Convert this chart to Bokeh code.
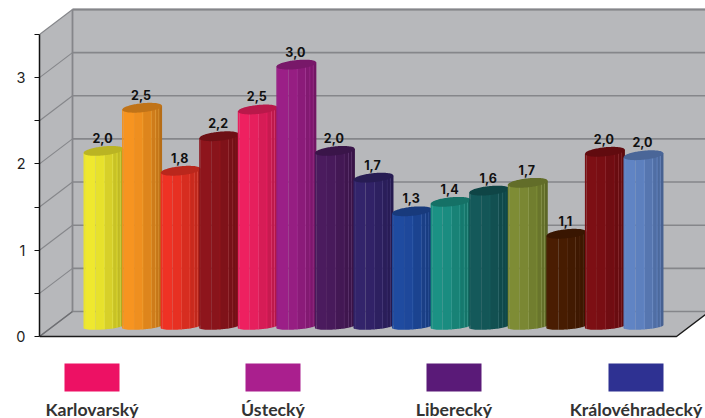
from bokeh.plotting import figure
from bokeh.models import Range1d, FixedTicker
from bokeh.core.properties import value
from bokeh.embed import file_html
from bokeh.resources import INLINE
import numpy as np

labels = ["2,0", "2,5", "1,8", "2,2", "2,5", "3,0", "2,0", "1,7", "1,3", "1,4", "1,6", "1,7", "1,1", "2,0", "2,0"]
values = [2.0, 2.5, 1.77, 2.17, 2.48, 3.0, 2.0, 1.69, 1.30, 1.41, 1.54, 1.63, 1.04, 1.99, 1.95]
colors = ["#EFE82E", "#F79420", "#EF3224", "#8E151C", "#EE2060", "#9B1F87", "#4B1B5E", "#33246B",
          "#1F4BA0", "#1B9184", "#14595A", "#7E8C35", "#4A1D02", "#7D0F14", "#6084C4"]
legend_labels = ["Karlovarský", "Ústecký", "Liberecký", "Královéhradecký"]
legend_colors = ["#ED1164", "#AA1F8E", "#5A1A78", "#2E3192"]
y_ticks = [0, 1, 2, 3]
y_minor = [0.5, 1.5, 2.5, 3.5]
grid_levels = [0, 0.5, 1, 1.5, 2, 2.5, 3, 3.5]

W, H = 705, 418
SCALE = 86.3          # px per unit
ZERO = 336            # screen y of value 0
def vy(s):            # screen px -> value
    return (ZERO - s) / SCALE
DX, DY = 33, 25 / SCALE   # depth of the 3D box

p = figure(width=W, height=H, output_backend="svg", toolbar_location=None,
           x_range=Range1d(39, 705), y_range=Range1d(vy(418), vy(0)),
           x_axis_location=None, y_axis_location="left",
           min_border_left=39, min_border_right=0, min_border_top=0, min_border_bottom=0)
p.grid.visible = False
p.outline_line_color = None

WALL = "#B7B8BB"
GRID = "#85868A"
XR = 720
top = 3.5
# walls and floor
p.patch([39, 39, 72, 72], [0, top, top + DY, DY], fill_color=WALL, line_color=None)
p.patch([72, XR, XR, 72], [DY, DY, top + DY, top + DY], fill_color=WALL, line_color=None)
p.patch([39, 676, 709, 72], [0, 0, DY, DY], fill_color=WALL, line_color=None)
# grid
for g in grid_levels:
    p.line([72, XR], [g + DY, g + DY], line_color=GRID, line_width=1.6)
    p.line([39, 72], [g, g + DY], line_color=GRID, line_width=1.1)
p.line([72, XR], [top + DY, top + DY], line_color=GRID, line_width=2)
p.line([72, 72], [DY, top + DY], line_color=GRID, line_width=1.8)
p.line([39, 72], [0, DY], line_color="#6E6F73", line_width=1.5)
p.line([39, 676, 709], [0, 0, DY], line_color="#1A1A1A", line_width=1.5)

# cylinders
def shade(c, f):
    r, g, b = int(c[1:3], 16), int(c[3:5], 16), int(c[5:7], 16)
    return "#%02X%02X%02X" % tuple(min(255, int(v * f)) for v in (r, g, b))

START, STEP, BW = 83, 38.57, 40
fr = [0, .04, .30, .52, .73, .84, .92, 1]
sh = [.98, 1, .97, .90, .84, .80, .74]
BASE = 10 / SCALE
TOPO = 13 / SCALE

def curve(ymid, f, b, tilt, sign):
    return ymid + (tilt * (f - .5) + sign * b * np.sqrt(np.clip(1 - (2 * f - 1) ** 2, 0, 1))) / SCALE

for i, (v, c) in enumerate(zip(values, colors)):
    x0 = START + i * STEP
    yt, yb = v + TOPO, BASE
    for j in range(len(sh)):
        f = np.linspace(fr[j], fr[j + 1], 8)
        xs = x0 + f * BW
        up = yt + 4 * (f - .5) / SCALE
        lo = curve(yb, f, 3, 3, -1)
        p.patch(list(xs) + list(xs[::-1]), list(lo) + list(up[::-1]),
                fill_color=shade(c, sh[j]), line_color=None)
        if j >= 3:
            p.line([xs[0], xs[0]], [lo[0], up[0]], line_color=shade(c, 1.15), line_width=0.7, line_alpha=.6)
    f = np.linspace(0, 1, 40)
    xs = x0 + f * BW
    up = curve(yt, f, 4.5, 4, 1)
    lo = curve(yt, f, 4.5, 4, -1)
    p.patch(list(xs) + list(xs[::-1]), list(up) + list(lo[::-1]),
            fill_color=shade(c, .78), line_color=None)

# value labels
xc = [START + i * STEP + 19 for i in range(len(values))]
yl = [v + 26 / SCALE for v in values]
p.text(xc, yl, text=labels,
       text_font=value("Inter"), text_font_size="12.5px", text_font_style="bold",
       text_color="#111111", text_align="center", text_baseline="middle")

# legend
lx = [64, 245, 426, 608]
p.quad(left=lx, right=[x + 55 for x in lx], top=[vy(363)] * 4, bottom=[vy(391)] * 4,
       fill_color=legend_colors, line_color=None)
p.text([x + 27.5 for x in lx], [vy(419)] * 4, text=legend_labels,
       text_font=value("Lato"), text_font_size="17.7px", text_font_style="bold",
       text_color="#333333", text_align="center", text_baseline="bottom")

# axis
ax = p.yaxis[0]
ax.bounds = (0, 3.5)
ax.ticker = FixedTicker(ticks=y_ticks, minor_ticks=y_minor)
ax.axis_line_color = "#111111"
ax.axis_line_width = 1.5
ax.major_tick_in = 0
ax.major_tick_out = 5
ax.minor_tick_in = 0
ax.minor_tick_out = 5
ax.major_tick_line_color = "#111111"
ax.minor_tick_line_color = "#111111"
ax.major_label_standoff = 9
ax.major_label_text_font = "Inter"
ax.major_label_text_font_size = "14.5px"
ax.major_label_text_color = "#222222"

open("out.html", "w").write(file_html(p, INLINE))
